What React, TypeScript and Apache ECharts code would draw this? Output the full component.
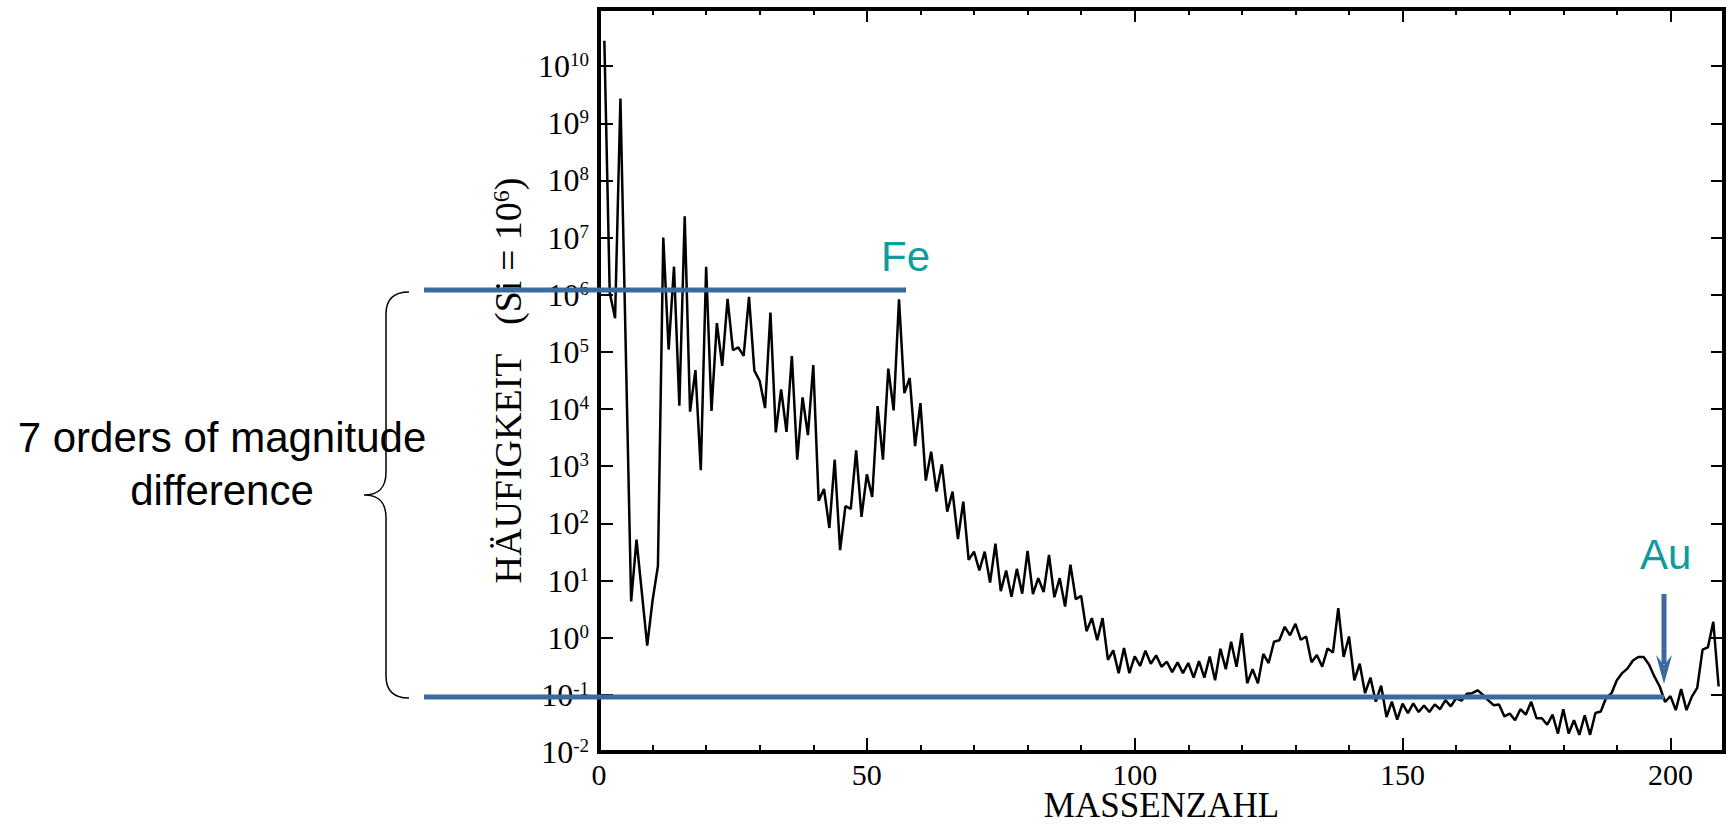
import React, { useEffect, useRef } from "react";
import * as echarts from "echarts";

const SERIF = '"Liberation Serif", "Times New Roman", serif';
const SANS = '"Liberation Sans", Arial, sans-serif';

// Axis ranges / ticks (y axis in decades: 10^Y_MIN_EXP .. 10^Y_MAX_EXP)
const X_MIN = 0;
const X_MAX = 210;
const X_MAJOR = 50;
const X_MINOR = 10;
const Y_MIN_EXP = -2;
const Y_MAX_EXP = 11;

// Abundance (atoms per 10^6 Si) by mass number; each segment starts at `start`
const segH = { start: 1, values: [2.79e10, 1.1e6, 3.9e5, 2.72e9] };
const segLi = { start: 6, values: [4.3, 52] };
const segA9 = {
  start: 9,
  values: [
    0.73, 4.5, 18, 1.0e7, 1.1e5, 3.1e6, 1.15e4, 2.37e7, 9.0e3, 4.8e4, 850, 3.1e6,
    9.3e3, 3.2e5, 5.7e4, 8.5e5, 1.07e5, 1.2e5, 8.5e4, 9.2e5, 4.7e4, 3.1e4, 1.04e4,
    4.9e5, 3.9e3, 2.2e4, 4.0e3, 8.5e4, 1.3e3, 1.6e4, 3.5e3, 5.9e4,
  ],
};
const segA41 = {
  start: 41,
  values: [
    250, 400, 83, 1300, 34, 200, 180, 1900, 130, 720, 290, 1.13e4, 1300, 5.1e4,
    9500, 8.3e5, 1.9e4, 3.5e4, 2250, 1.27e4, 560, 1800, 360, 1080, 160, 360, 53,
    240, 23, 32, 15, 32, 9.2, 44, 6.5, 15, 5.2, 16, 5.9, 33,
  ],
};
const segA81 = {
  start: 81,
  values: [
    5.8, 11, 6.3, 28, 5.1, 11, 3.5, 19, 4.7, 5.4, 1.3, 2.2, 0.9, 2.2, 0.41, 0.6,
    0.24, 0.66, 0.24, 0.47, 0.32, 0.59, 0.35, 0.49, 0.31, 0.38, 0.25, 0.37, 0.24,
    0.36, 0.2, 0.39, 0.2, 0.47, 0.18, 0.64, 0.28, 0.85, 0.31, 1.2,
  ],
};
const segA121 = {
  start: 121,
  values: [
    0.16, 0.28, 0.16, 0.52, 0.36, 0.85, 0.9, 1.55, 1.1, 1.75, 0.92, 1.05, 0.37,
    0.5, 0.31, 0.65, 0.55, 3.3, 0.46, 1.05, 0.18, 0.35, 0.107, 0.2, 0.076, 0.145,
    0.041, 0.076, 0.037, 0.07, 0.048, 0.071, 0.05, 0.065, 0.05, 0.068, 0.056,
    0.081, 0.063, 0.087,
  ],
};
const segA161 = {
  start: 161,
  values: [
    0.079, 0.105, 0.107, 0.12, 0.1, 0.08, 0.066, 0.068, 0.042, 0.047, 0.036,
    0.056, 0.045, 0.076, 0.039, 0.039, 0.03, 0.045, 0.021, 0.056, 0.021, 0.036,
    0.02, 0.044, 0.02, 0.048, 0.051, 0.089, 0.107, 0.18, 0.24, 0.29, 0.4, 0.46,
    0.46, 0.34, 0.21, 0.14, 0.075, 0.095, 0.054, 0.126, 0.054, 0.093, 0.132,
    0.62, 0.68, 1.9, 0.14,
  ],
};
const segments = [segH, segLi, segA9, segA41, segA81, segA121, segA161];

const ANNOT_BLUE = "#3A6A9E";
const ANNOT_TEAL = "#0E9C9C";
const BRACE_D =
  "M409,292 C395,292 386,298 386,314 L386,472 C386,488 379,495 364,495 C379,495 386,502 386,518 L386,676 C386,692 395,698 409,698";

let braceRegistered = false;

export default function App() {
  const ref = useRef<HTMLDivElement>(null);

  useEffect(() => {
    if (!ref.current) return;
    if (!braceRegistered) {
      echarts.graphic.registerShape("brace", echarts.graphic.extendPath(BRACE_D, {}));
      braceRegistered = true;
    }
    const chart = echarts.init(ref.current, null, {
      renderer: "svg",
      width: 1726,
      height: 825,
    });

    // plotted on a decade (log10) value axis
    const data: [number, number][] = [];
    segments.forEach((s) =>
      s.values.forEach((v, i) => data.push([s.start + i, Math.log10(v)]))
    );

    const tickStyle = { color: "#000", width: 2 };
    const xCommon = {
      type: "value" as const,
      min: X_MIN,
      max: X_MAX,
      axisLine: { show: false, onZero: false },
      splitLine: { show: false },
    };
    const yCommon = {
      type: "value" as const,
      min: Y_MIN_EXP,
      max: Y_MAX_EXP,
      interval: 1,
      axisLine: { show: false, onZero: false },
      splitLine: { show: false },
    };

    chart.setOption({
      animation: false,
      backgroundColor: "#fff",
      grid: {
        left: 599,
        top: 9,
        width: 1125,
        height: 743,
        show: true,
        borderWidth: 4,
        borderColor: "#000",
        backgroundColor: "transparent",
        containLabel: false,
        outerBoundsMode: "none",
      },
      xAxis: [
        {
          ...xCommon,
          position: "bottom",
          interval: X_MAJOR,
          axisTick: { show: true, inside: true, length: 14, lineStyle: tickStyle },
          axisLabel: {
            show: true,
            margin: 9,
            fontSize: 30,
            lineHeight: 26,
            fontFamily: SERIF,
            color: "#000",
            showMaxLabel: false,
          },
          name: "MASSENZAHL",
          nameLocation: "middle",
          nameGap: 36,
          nameMoveOverlap: false,
          nameTextStyle: {
            fontSize: 35,
            lineHeight: 34,
            fontFamily: SERIF,
            color: "#000",
          },
        },
        {
          ...xCommon,
          position: "bottom",
          interval: X_MINOR,
          axisTick: { show: true, inside: true, length: 7, lineStyle: tickStyle },
          axisLabel: { show: false },
        },
        {
          ...xCommon,
          position: "top",
          interval: X_MAJOR,
          axisTick: { show: true, inside: true, length: 13, lineStyle: tickStyle },
          axisLabel: { show: false },
        },
        {
          ...xCommon,
          position: "top",
          interval: X_MINOR,
          axisTick: { show: true, inside: true, length: 6, lineStyle: tickStyle },
          axisLabel: { show: false },
        },
      ],
      yAxis: [
        {
          ...yCommon,
          position: "left",
          axisTick: { show: true, inside: true, length: 14, lineStyle: tickStyle },
          axisLabel: {
            show: true,
            margin: 10,
            showMaxLabel: false,
            fontSize: 32,
            fontFamily: SERIF,
            color: "#000",
            formatter: (v: number) => `{b|10}{e|${Math.round(v)}}`,
            rich: {
              b: { fontSize: 32, fontFamily: SERIF, color: "#000" },
              e: { fontSize: 19, fontFamily: SERIF, color: "#000", verticalAlign: "top" },
            },
          },
          name: "HÄUFIGKEIT\u00A0\u00A0\u00A0(Si = 10{s|6})",
          nameLocation: "middle",
          nameGap: 71,
          nameTextStyle: {
            fontSize: 38,
            fontFamily: SERIF,
            color: "#000",
            rich: {
              s: { fontSize: 24, fontFamily: SERIF, color: "#000", verticalAlign: "top" },
            },
          },
        },
        {
          ...yCommon,
          position: "right",
          axisTick: { show: true, inside: true, length: 13, lineStyle: tickStyle },
          axisLabel: { show: false },
        },
      ],
      series: [
        {
          type: "line",
          xAxisIndex: 0,
          yAxisIndex: 0,
          data,
          showSymbol: false,
          symbol: "none",
          lineStyle: { color: "#000", width: 2.5 },
          z: 2,
        },
      ],
      graphic: [
        {
          type: "line",
          z: 100,
          shape: { x1: 424, y1: 290, x2: 906, y2: 290 },
          style: { stroke: ANNOT_BLUE, lineWidth: 5 },
        },
        {
          type: "line",
          z: 100,
          shape: { x1: 424, y1: 697, x2: 1664, y2: 697 },
          style: { stroke: ANNOT_BLUE, lineWidth: 5 },
        },
        {
          type: "line",
          z: 100,
          shape: { x1: 1664, y1: 594, x2: 1664, y2: 664 },
          style: { stroke: ANNOT_BLUE, lineWidth: 5 },
        },
        {
          type: "polygon",
          z: 100,
          shape: {
            points: [
              [1656, 655],
              [1664, 665],
              [1672, 655],
              [1664, 684],
            ],
          },
          style: { fill: ANNOT_BLUE },
        },
        {
          type: "text",
          z: 100,
          style: {
            text: "Fe",
            x: 881,
            y: 256,
            fill: ANNOT_TEAL,
            font: `42px ${SANS}`,
            textAlign: "left",
            verticalAlign: "middle",
          },
        },
        {
          type: "text",
          z: 100,
          style: {
            text: "Au",
            x: 1640,
            y: 554,
            fill: ANNOT_TEAL,
            font: `42px ${SANS}`,
            textAlign: "left",
            verticalAlign: "middle",
          },
        },
        {
          type: "text",
          z: 100,
          style: {
            text: "7 orders of magnitude",
            x: 222,
            y: 437,
            fill: "#000",
            font: `42px ${SANS}`,
            textAlign: "center",
            verticalAlign: "middle",
          },
        },
        {
          type: "text",
          z: 100,
          style: {
            text: "difference",
            x: 222,
            y: 490,
            fill: "#000",
            font: `42px ${SANS}`,
            textAlign: "center",
            verticalAlign: "middle",
          },
        },
        {
          type: "brace",
          z: 100,
          x: 0,
          y: 0,
          scaleX: 1,
          scaleY: 1,
          style: { stroke: "#000", fill: "none", lineWidth: 1.5 },
        },
      ],
    });

    return () => chart.dispose();
  }, []);

  return (
    <div
      ref={ref}
      style={{ position: "absolute", left: 0, top: 0, width: 1726, height: 825 }}
    />
  );
}
